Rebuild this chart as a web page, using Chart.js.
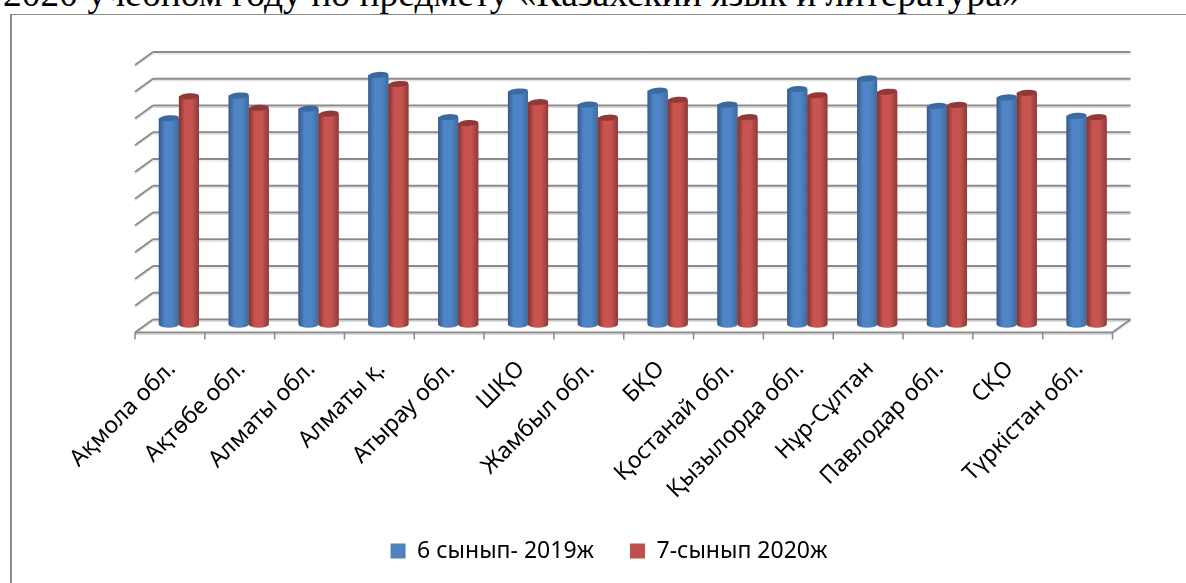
<!DOCTYPE html>
<html>
<head>
<meta charset="utf-8">
<style>
  html, body { margin: 0; padding: 0; background: #fff; overflow: hidden; }
  #title { position: absolute; left: 3px; top: -28px; font: 37.5px "Liberation Serif", serif; color: #000; white-space: nowrap; }
  #frame { position: absolute; left: 10px; top: 14px; width: 1200px; height: 600px; border-left: 2px solid #8c8c8c; border-top: 1px solid #8c8c8c; }
  #myChart { position: absolute; left: 0; top: 0; }
</style>
<script src="https://cdn.jsdelivr.net/npm/chart.js@4"></script>
</head>
<body>
<div id="frame"></div>
<div id="title">2020 учебном году по предмету «Казахский язык и литература»</div>
<canvas id="myChart" width="1186" height="583"></canvas>
<script>
const categories = ['Ақмола обл.', 'Ақтөбе обл.', 'Алматы обл.', 'Алматы қ.', 'Атырау обл.', 'ШҚО', 'Жамбыл обл.', 'БҚО', 'Қостанай обл.', 'Қызылорда обл.', 'Нұр-Сұлтан', 'Павлодар обл.', 'СҚО', 'Түркістан обл.']
const grade6 = [77.1, 85.6, 80.7, 93.3, 77.5, 87.1, 82.2, 87.4, 82.2, 88.0, 92.0, 81.7, 84.9, 78.0]
const grade7 = [85.3, 81.0, 78.8, 89.9, 75.3, 83.1, 77.3, 84.0, 77.5, 85.7, 87.0, 82.1, 86.6, 77.5]
const seriesNames = ['6 сынып- 2019ж', '7-сынып 2020ж']

const FONT = '"Noto Sans", sans-serif'
// depth of the fake 3D box, from the bars' plane
const DX = 9
const DY = 5
const FRONT_DY = 8

const wall3d = {
  id: 'wall3d',
  beforeDatasetsDraw(chart) {
    const { ctx, scales: { x, y }, chartArea: area } = chart
    const line = (x1, y1, x2, y2) => {
      ctx.strokeStyle = '#dcdcdc'
      ctx.lineWidth = 1
      ctx.beginPath(); ctx.moveTo(x1, y1 + 2); ctx.lineTo(x2, y2 + 2); ctx.stroke()
      ctx.strokeStyle = '#8a8a8a'
      ctx.lineWidth = 2
      ctx.beginPath(); ctx.moveTo(x1, y1); ctx.lineTo(x2, y2); ctx.stroke()
    }
    ctx.save()
    y.ticks.forEach(t => {
      const py = y.getPixelForValue(t.value)
      line(area.left - DX, py + FRONT_DY, area.left + DX, py - DY)
      line(area.left + DX, py - DY, area.right + DX, py - DY)
    })
    const py0 = y.getPixelForValue(0)
    line(area.right - DX, py0 + FRONT_DY, area.right + DX, py0 - DY)
    line(area.left - DX, py0 + FRONT_DY, area.right - DX, py0 + FRONT_DY)
    const step = x.width / categories.length
    ctx.strokeStyle = '#8a8a8a'
    ctx.lineWidth = 1.5
    for (let i = 0; i <= categories.length; i++) {
      const px = area.left - DX + i * step
      ctx.beginPath(); ctx.moveTo(px, py0 + FRONT_DY); ctx.lineTo(px, py0 + FRONT_DY + 7); ctx.stroke()
    }
    ctx.restore()
  }
}

const shades = [
  { edgeL: '#38598a', mid: '#4f85c6', edgeR: '#3f6a9c', cap: '#3b6a9f' },
  { edgeL: '#7d3331', mid: '#c8534f', edgeR: '#8c3b39', cap: '#8f3a38' }
]

// paint the plain bars as cylinders
const cylinders = {
  id: 'cylinders',
  afterDatasetsDraw(chart) {
    const { ctx } = chart
    ctx.save()
    chart.data.datasets.forEach((ds, di) => {
      const s = shades[di]
      chart.getDatasetMeta(di).data.forEach(bar => {
        const { x, y, base, width } = bar.getProps(['x', 'y', 'base', 'width'], true)
        const l = x - width / 2
        const rx = width / 2
        const g = ctx.createLinearGradient(l, 0, l + width, 0)
        g.addColorStop(0, s.edgeL)
        g.addColorStop(0.3, s.mid)
        g.addColorStop(0.65, s.mid)
        g.addColorStop(1, s.edgeR)
        ctx.fillStyle = g
        ctx.beginPath()
        ctx.moveTo(l, y)
        ctx.lineTo(l + width, y)
        ctx.lineTo(l + width, base)
        ctx.ellipse(x, base, rx, 3.2, 0, 0, Math.PI)
        ctx.closePath()
        ctx.fill()
        ctx.fillStyle = s.cap
        ctx.beginPath()
        ctx.ellipse(x, y, rx, 3, -0.08, 0, Math.PI * 2)
        ctx.fill()
      })
    })
    ctx.restore()
  }
}

new Chart(document.getElementById('myChart'), {
  type: 'bar',
  data: {
    labels: categories,
    datasets: [
      { label: seriesNames[0], data: grade6, backgroundColor: '#4f81bd', borderWidth: 0 },
      { label: seriesNames[1], data: grade7, backgroundColor: '#c0504d', borderWidth: 0 }
    ]
  },
  options: {
    responsive: false,
    animation: false,
    layout: { padding: { top: 57, left: 96.5, right: 64.5, bottom: 10.5 } },
    datasets: { bar: { barPercentage: 1, categoryPercentage: 0.575 } },
    scales: {
      x: {
        grid: { display: false },
        border: { display: false },
        ticks: { color: '#000', font: { family: FONT, size: 23 }, minRotation: 45, maxRotation: 45, padding: 23, labelOffset: -7, autoSkip: false },
        afterFit(scale) { scale.height = 179 }
      },
      y: {
        min: 0,
        max: 100,
        grid: { display: false },
        border: { display: false },
        ticks: { display: false, stepSize: 10 },
        afterFit(scale) { scale.width = 47.5 }
      }
    },
    plugins: {
      tooltip: { enabled: false },
      legend: {
        position: 'bottom',
        labels: { color: '#000', font: { family: FONT, size: 23 }, boxWidth: 15, boxHeight: 15, padding: 36 }
      }
    }
  },
  plugins: [wall3d, cylinders]
})
</script>
</body>
</html>
